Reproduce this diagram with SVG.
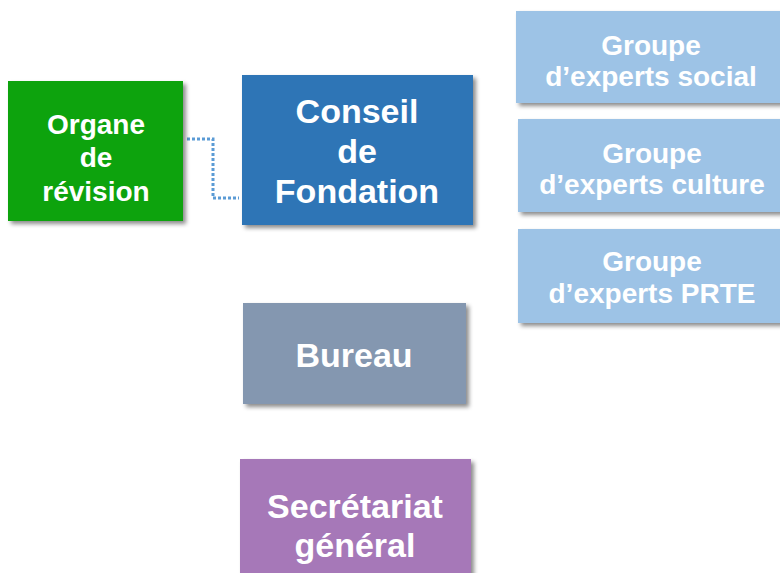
<svg xmlns="http://www.w3.org/2000/svg" width="780" height="573" viewBox="0 0 780 573">
<defs>
<filter id="sh" x="-10%" y="-10%" width="130%" height="140%">
<feDropShadow dx="3" dy="3" stdDeviation="2" flood-color="#000" flood-opacity="0.45"/>
</filter>
<style>
text{font-family:"Liberation Sans",Arial,sans-serif;font-weight:bold;fill:#fff;text-anchor:middle}
.s28{font-size:28px}
.s34{font-size:34px}
.box{filter:url(#sh)}
.conn{fill:none;stroke:#5B9BD5;stroke-width:3;stroke-dasharray:3 2}
</style>
</defs>
<rect width="780" height="573" fill="#fff"/>
<g id="connectors">
<path class="conn" d="M187,139 H213 V198 H239"/>
</g>
<g id="organe">
<rect class="box" x="8" y="81" width="175" height="140" fill="#0AA311"/>
<text class="s28" x="96" y="134">Organe</text>
<text class="s28" x="96" y="167">de</text>
<text class="s28" x="96" y="201">révision</text>
</g>
<g id="conseil">
<rect class="box" x="242" y="75" width="231" height="150" fill="#2E75B6"/>
<text class="s34" x="357" y="123">Conseil</text>
<text class="s34" x="357" y="163">de</text>
<text class="s34" x="357" y="203">Fondation</text>
</g>
<g id="groupe-social">
<rect class="box" x="516" y="11" width="270" height="92" fill="#9DC3E6"/>
<text class="s28" x="651" y="55">Groupe</text>
<text class="s28" x="651" y="86">d’experts social</text>
</g>
<g id="groupe-culture">
<rect class="box" x="518" y="119" width="268" height="93" fill="#9DC3E6"/>
<text class="s28" x="652" y="163">Groupe</text>
<text class="s28" x="652" y="194">d’experts culture</text>
</g>
<g id="groupe-prte">
<rect class="box" x="518" y="229" width="268" height="94" fill="#9DC3E6"/>
<text class="s28" x="652" y="271">Groupe</text>
<text class="s28" x="652" y="303">d’experts PRTE</text>
</g>
<g id="bureau">
<rect class="box" x="243" y="303" width="223" height="101" fill="#8497B0"/>
<text class="s34" x="354" y="367">Bureau</text>
</g>
<g id="secretariat">
<rect class="box" x="240" y="459" width="231" height="130" fill="#A678B8"/>
<text class="s34" x="355" y="518">Secrétariat</text>
<text class="s34" x="355" y="557">général</text>
</g>
</svg>
